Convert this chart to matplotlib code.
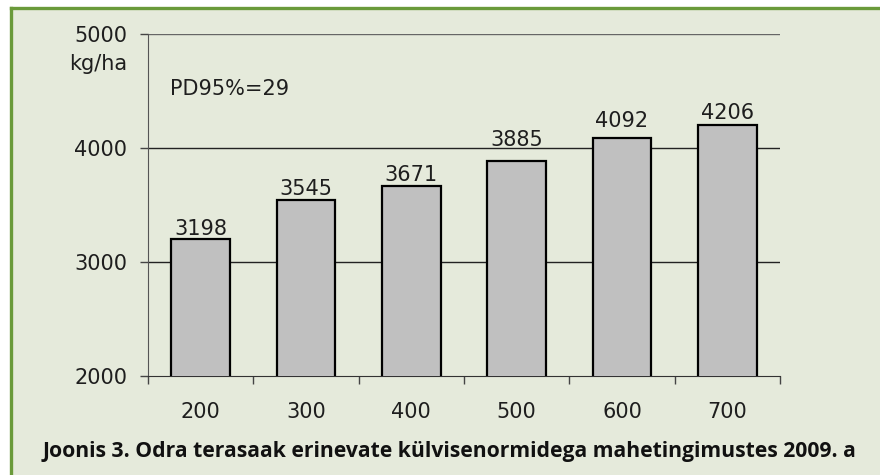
import matplotlib
matplotlib.use("Agg")
import matplotlib.pyplot as plt
from matplotlib.patches import Rectangle
from matplotlib.lines import Line2D

categories = ["200", "300", "400", "500", "600", "700"]
values = [3198, 3545, 3671, 3885, 4092, 4206]
yticks = [2000, 3000, 4000, 5000]
caption = "Joonis 3. Odra terasaak erinevate külvisenormidega mahetingimustes 2009. a"
unit_label = "kg/ha"
note = "PD95%=29"

W, H = 880, 475
bg = "#e5eadb"
green = "#6a9a3a"
txt = "#1e1e1e"
fs = 15
# label gap above bar top (pixels), as placed in the original
label_gap_px = [4, 4, 4, 14, 10, 5]
plt.rcParams['font.family'] = ['DejaVu Sans']

fig = plt.figure(figsize=(W/100, H/100), dpi=100, facecolor="white")
# panel background and border
fig.patches.append(Rectangle((10/W, 0), 1 - 10/W, 1 - 8/H, transform=fig.transFigure,
                             facecolor=bg, edgecolor="none", zorder=-2))
fig.lines.append(Line2D([11/W, 1], [1 - 8/H, 1 - 8/H], transform=fig.transFigure,
                        color=green, lw=2.4, zorder=-1))
fig.lines.append(Line2D([11/W, 11/W], [0, 1 - 8/H], transform=fig.transFigure,
                        color=green, lw=2.4, zorder=-1))

ax = fig.add_axes([148/W, (H-376)/H, (780-148)/W, (376-34)/H])
ax.set_facecolor("none")
x = list(range(len(categories)))
ax.bar(x, values, width=0.56, color="#c0c0c0", edgecolor="black", linewidth=1.6, zorder=3)
ax.set_xlim(-0.5, len(categories) - 0.5)
ax.set_ylim(yticks[0], yticks[-1])
ax.set_yticks(yticks)
ax.set_yticklabels([str(v) for v in yticks], fontsize=fs, color=txt)
for v in yticks[1:]:
    ax.axhline(v, color="#222222" if v != yticks[-1] else "#666666", lw=1.0, zorder=1)

ax.set_xticks(x)
ax.set_xticklabels(categories, fontsize=fs, color=txt)
ax.tick_params(axis="x", which="major", length=0, pad=18.5)
ax.set_xticks([i - 0.5 for i in range(len(categories) + 1)], minor=True)
ax.tick_params(axis="x", which="minor", length=5.8, width=1, color="#444444", direction="out")
ax.tick_params(axis="y", length=5.8, width=1, color="#444444", pad=9)

for s in ["top", "right"]:
    ax.spines[s].set_visible(False)
ax.spines["left"].set_color("#555555")
ax.spines["bottom"].set_color("#333333")

for xi, v, g in zip(x, values, label_gap_px):
    ax.annotate(str(v), (xi, v), xytext=(0, g * 0.72 + 0.6), textcoords="offset points",
                ha="center", va="baseline", fontsize=fs, color=txt, zorder=4)

fig.text(127/W, 1 - 70/H, unit_label, ha="right", va="baseline", fontsize=fs, color=txt)
fig.text(170/W, 1 - 95/H, note, ha="left", va="baseline", fontsize=fs, color=txt)
fig.text(449/W, 1 - 457/H, caption, ha="center", va="baseline", fontsize=15.2,
         fontweight="bold", color="#111111", family=['Open Sans', 'DejaVu Sans'])

fig.savefig("out.png", dpi=100, facecolor="white")
